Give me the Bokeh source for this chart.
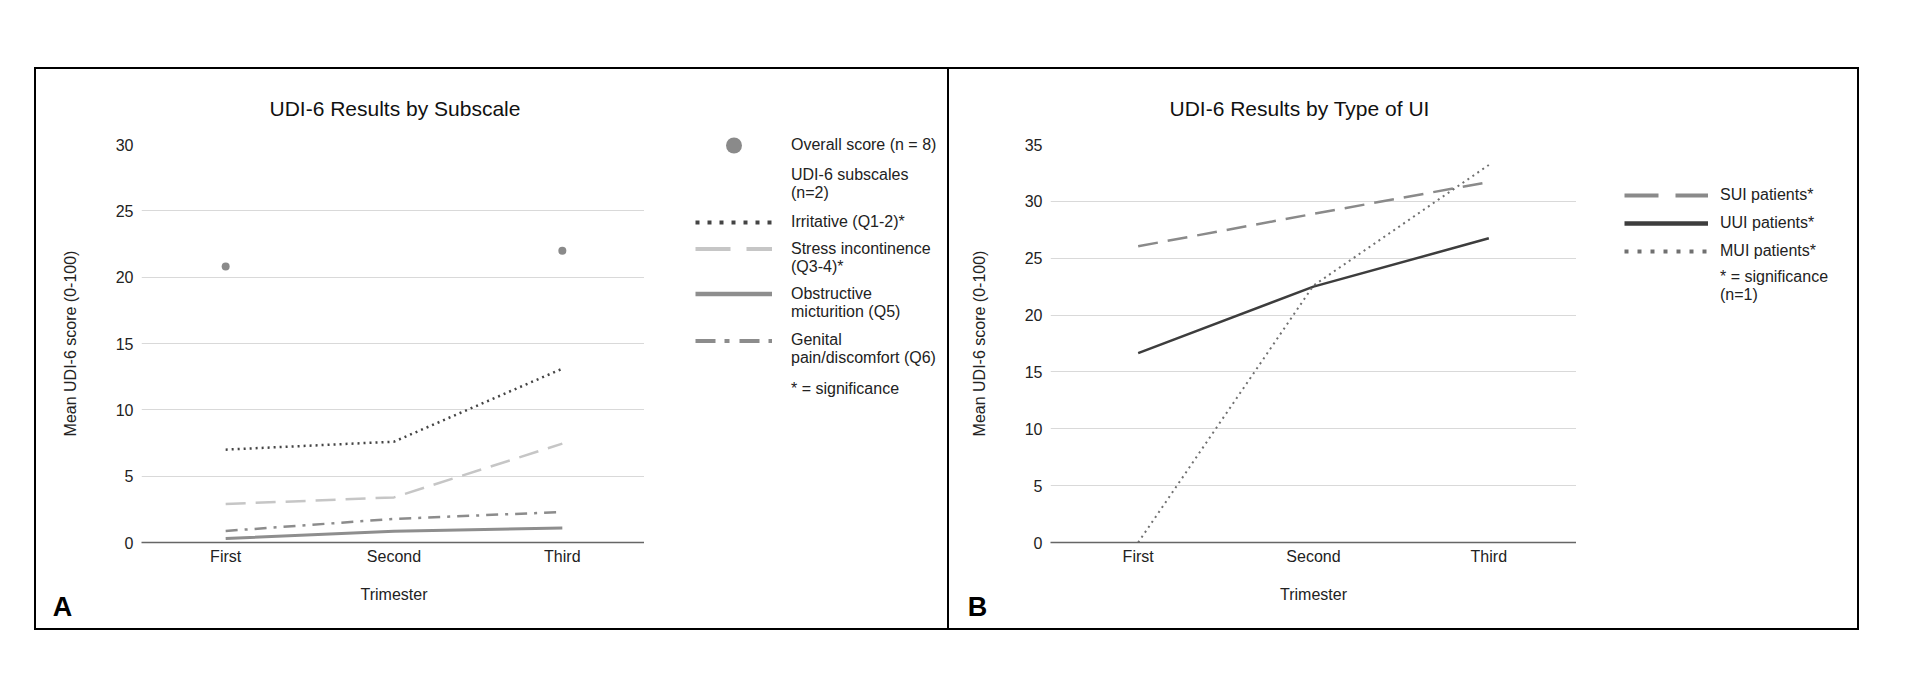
import numpy as np
from bokeh.plotting import figure
from bokeh.models import (FactorRange, Range1d, Legend, LegendItem, Title, Spacer,
                          SingleIntervalTicker)
from bokeh.layouts import row, column
from bokeh.core.properties import value
from bokeh.embed import file_html
from bokeh.resources import INLINE

# ---------------- data ----------------
trimesters = ["First", "Second", "Third"]

# Panel A: UDI-6 results by subscale
overall_score = [20.8, np.nan, 22.0]
irritative = [7.0, 7.6, 13.1]
stress_incontinence = [2.9, 3.4, 7.45]
obstructive_micturition = [0.3, 0.85, 1.1]
genital_pain = [0.87, 1.78, 2.3]

# Panel B: UDI-6 results by type of UI
sui_patients = [26.05, 28.9, 31.7]
uui_patients = [16.65, 22.5, 26.75]
mui_patients = [0.0, 22.6, 33.2]

title_a = "UDI-6 Results by Subscale"
title_b = "UDI-6 Results by Type of UI"
x_label = "Trimester"
y_label = "Mean UDI-6 score (0-100)"

FONT = "Liberation Sans"
TXT = "#222222"
BW = 2                              # panel border width (px)
BORDER = f"{BW}px solid black"
CANVAS_H = 559          # drawing height of every canvas (px), borders excluded
CANVAS_TOP = 69         # page y of the canvases' top edge
LEGEND_NUDGE = -3.5     # fine vertical adjustment of the legend rows

# plot line styles
ST_OVR = dict(size=8, fill_color="#8a8a8a", line_color=None)
ST_GEN = dict(line_color="#8c8c8c", line_width=2.5, line_dash="12 7 3 7")
ST_OBS = dict(line_color="#8e8e8e", line_width=3)
ST_STR = dict(line_color="#c6c6c6", line_width=2.5, line_dash="20 10")
ST_IRR = dict(line_color="#444444", line_width=2.5, line_dash="2 4")
ST_SUI = dict(line_color="#8a8a8a", line_width=2.5, line_dash="20 10")
ST_UUI = dict(line_color="#3d3d3d", line_width=2.5)
ST_MUI = dict(line_color="#707070", line_width=2, line_dash="2 4")

# legend swatch styles (drawn heavier, as in the original legend)
SW_GEN = dict(line_color="#8c8c8c", line_width=4, line_dash="20 9 5 10")
SW_OBS = dict(line_color="#8e8e8e", line_width=4.5)
SW_STR = dict(line_color="#c6c6c6", line_width=4, line_dash="35 16")
SW_IRR = dict(line_color="#444444", line_width=4, line_dash="4 8")
SW_SUI = dict(line_color="#8a8a8a", line_width=4, line_dash="34 17")
SW_UUI = dict(line_color="#3d3d3d", line_width=4.5)
SW_MUI = dict(line_color="#707070", line_width=4, line_dash="4 9")


def no_frame_align(f):
    try:
        f.frame_align = False
    except Exception:
        pass


def letter_title(letter, offset):
    kw = dict(text=letter, align="left", offset=offset, vertical_align="top",
              text_font=FONT, text_font_size="27px", text_font_style="bold",
              text_color="black")
    try:
        return Title(standoff=-28, **kw)
    except Exception:
        return Title(standoff=0, **kw)


def make_panel(title, title_offset, y_max, frame_w, left, side_borders, styles,
               letter, letter_offset):
    p = figure(x_range=FactorRange(factors=trimesters, range_padding=0),
               y_range=Range1d(0, y_max),
               width=left + frame_w + side_borders * BW, height=CANVAS_H + 2 * BW,
               min_border_left=left, min_border_right=0,
               min_border_top=75, min_border_bottom=CANVAS_H - 75 - 394,
               output_backend="svg", toolbar_location=None, styles=styles,
               background_fill_color="white", border_fill_color="white")
    no_frame_align(p)
    p.title.text = title
    p.title.text_font = FONT
    p.title.text_font_size = "21px"
    p.title.text_font_style = "normal"
    p.title.text_color = "#111111"
    p.title.align = "left"
    p.title.offset = title_offset
    p.title.vertical_align = "top"
    p.title.standoff = 46
    p.outline_line_color = None
    p.xgrid.grid_line_color = None
    p.ygrid.grid_line_color = "#d9d9d9"
    p.ygrid.grid_line_width = 1
    p.yaxis.ticker = SingleIntervalTicker(interval=5, num_minor_ticks=0)
    for ax in (p.xaxis[0], p.yaxis[0]):
        ax.major_label_text_font = FONT
        ax.major_label_text_font_size = "16px"
        ax.major_label_text_color = TXT
        ax.axis_label_text_font = FONT
        ax.axis_label_text_font_size = "16px"
        ax.axis_label_text_font_style = "normal"
        ax.axis_label_text_color = TXT
        ax.major_tick_line_color = None
        ax.minor_tick_line_color = None
        ax.major_tick_out = 0
        ax.major_tick_in = 0
    p.xaxis.axis_label = x_label
    p.yaxis.axis_label = y_label
    p.xaxis.axis_line_color = "#666666"
    p.xaxis.axis_line_width = 1.5
    p.yaxis.axis_line_color = None
    p.xaxis.major_label_standoff = 5
    p.xaxis.axis_label_standoff = 18
    p.yaxis.major_label_standoff = 8
    p.yaxis.axis_label_standoff = 34
    p.add_layout(letter_title(letter, letter_offset), "below")
    return p


def make_legend_canvas(width, styles):
    f = figure(width=width + BW, height=CANVAS_H + 2 * BW, min_border=0,
               x_range=Range1d(0, 1), y_range=Range1d(0, 1),
               x_axis_location=None, y_axis_location=None,
               output_backend="svg", toolbar_location=None, styles=styles,
               background_fill_color="white", border_fill_color="white")
    no_frame_align(f)
    f.grid.visible = False
    f.outline_line_color = None
    return f


def swatch_line(f, style):
    # legend-only renderer: one undefined point, so nothing is drawn in the canvas
    return f.line([np.nan], [np.nan], **style)


def add_legend(f, items, glyph_left, first_y, item_h, gw, standoff, gh=None):
    """glyph_left: px from the legend canvas' left; first_y: page y of first row."""
    n = len(items)
    top = first_y + LEGEND_NUDGE - item_h / 2 - CANVAS_TOP
    vy = CANVAS_H - (top + n * item_h)
    f.add_layout(Legend(items=items, location=(glyph_left, vy), glyph_width=gw,
                        glyph_height=int(gh or item_h), label_height=int(item_h),
                        label_standoff=standoff, spacing=0, padding=0, margin=0,
                        border_line_color=None, background_fill_alpha=0,
                        label_text_font=FONT, label_text_font_size="16px",
                        label_text_color=TXT))


def item(text, renderer=None):
    return LegendItem(label=value(text), renderers=[renderer] if renderer else [])


# ---------------- panel A ----------------
pa = make_panel(title_a, 128, 30, 503, 105, 1,
                {"border-left": BORDER, "border-top": BORDER, "border-bottom": BORDER},
                "A", -88.7)
pa.line(trimesters, genital_pain, **ST_GEN)
pa.line(trimesters, obstructive_micturition, **ST_OBS)
pa.line(trimesters, stress_incontinence, **ST_STR)
pa.line(trimesters, irritative, **ST_IRR)
pa.scatter(trimesters, overall_score, **ST_OVR)

la = make_legend_canvas(303, {"border-right": BORDER, "border-top": BORDER,
                              "border-bottom": BORDER})
s_ovr = la.scatter([np.nan], [np.nan], **ST_OVR)
s_irr = swatch_line(la, SW_IRR)
s_str = swatch_line(la, SW_STR)
s_obs = swatch_line(la, SW_OBS)
s_gen = swatch_line(la, SW_GEN)
add_legend(la, [item("Overall score (n = 8)", s_ovr)], 51, 144, 40, 77, 19)
add_legend(la, [item("UDI-6 subscales"), item("(n=2)")], 51, 175.5, 17, 77, 19)
add_legend(la, [item("Irritative (Q1-2)*", s_irr)], 51, 221, 20, 77, 19)
add_legend(la, [item("Stress incontinence", s_str), item("(Q3-4)*")], 51, 249.5, 17, 77, 19)
add_legend(la, [item("Obstructive", s_obs), item("micturition (Q5)")], 51, 294.5, 17, 77, 19)
add_legend(la, [item("Genital", s_gen), item("pain/discomfort (Q6)")], 51, 341, 17, 77, 19)
add_legend(la, [item("* = significance")], 51, 388, 20, 77, 19)

# ---------------- panel B ----------------
pb = make_panel(title_b, 119, 35, 526, 101, 0,
                {"border-top": BORDER, "border-bottom": BORDER}, "B", -82.7)
pb.line(trimesters, sui_patients, **ST_SUI)
pb.line(trimesters, uui_patients, **ST_UUI)
pb.line(trimesters, mui_patients, **ST_MUI)

lb = make_legend_canvas(281, {"border-right": BORDER, "border-top": BORDER,
                              "border-bottom": BORDER})
s_sui = swatch_line(lb, SW_SUI)
s_uui = swatch_line(lb, SW_UUI)
s_mui = swatch_line(lb, SW_MUI)
add_legend(lb, [item("SUI patients*", s_sui)], 48, 194, 20, 84, 12)
add_legend(lb, [item("UUI patients*", s_uui)], 48, 222, 20, 84, 12)
add_legend(lb, [item("MUI patients*", s_mui)], 48, 250, 20, 84, 12)
add_legend(lb, [item("* = significance"), item("(n=1)")], 48, 278, 17, 84, 12)

layout = column(Spacer(height=67), row(Spacer(width=34), pa, la, pb, lb))

html = file_html(layout, INLINE, title="UDI-6 Results")
with open("out.html", "w") as f:
    f.write(html)
